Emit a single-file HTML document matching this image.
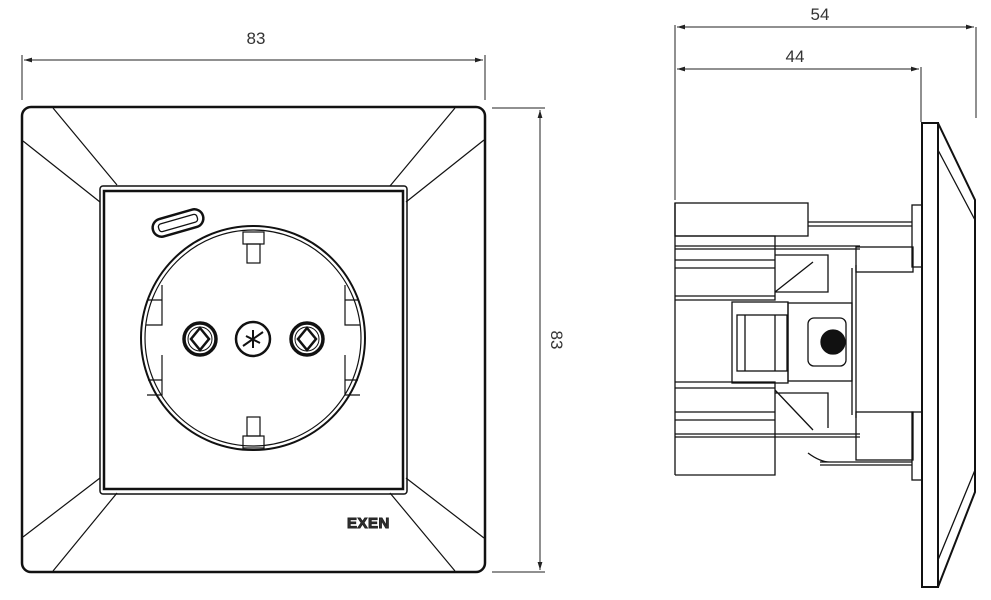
<!DOCTYPE html>
<html><head><meta charset="utf-8"><style>
html,body{margin:0;padding:0;background:#fff;width:991px;height:600px;overflow:hidden}
svg{display:block}
text{font-family:"Liberation Sans",sans-serif;fill:#333}
</style></head><body>
<svg width="991" height="600" viewBox="0 0 991 600" xmlns="http://www.w3.org/2000/svg">
<defs>
<marker id="a" viewBox="0 0 10 10" refX="10" refY="5" markerWidth="8" markerHeight="8" orient="auto-start-reverse"><path d="M0,2 L10,5 L0,8z" fill="#222"/></marker>
</defs>
<g stroke="#222" fill="none" stroke-width="1">
<line x1="22" y1="55" x2="22" y2="100"/>
<line x1="485" y1="55" x2="485" y2="100"/>
<line x1="24" y1="60" x2="483" y2="60" marker-start="url(#a)" marker-end="url(#a)"/>
<line x1="492" y1="108" x2="545" y2="108"/>
<line x1="492" y1="572" x2="545" y2="572"/>
<line x1="540" y1="110" x2="540" y2="570" marker-start="url(#a)" marker-end="url(#a)"/>
<line x1="675" y1="25" x2="675" y2="200"/>
<line x1="976" y1="27" x2="976" y2="118"/>
<line x1="921" y1="67" x2="921" y2="122"/>
<line x1="677" y1="27" x2="974" y2="27" marker-start="url(#a)" marker-end="url(#a)"/>
<line x1="677" y1="69" x2="919" y2="69" marker-start="url(#a)" marker-end="url(#a)"/>
</g>
<text x="256" y="44" font-size="17" text-anchor="middle">83</text>
<text x="820" y="20" font-size="17" text-anchor="middle">54</text>
<text x="795" y="62" font-size="17" text-anchor="middle">44</text>
<text x="0" y="0" font-size="17" text-anchor="middle" transform="translate(551,340) rotate(90)">83</text>

<g stroke="#111" fill="none">
<rect x="22" y="107" width="463" height="465" rx="9" stroke-width="2.5"/>
<g stroke-width="1.2">
<line x1="53" y1="108" x2="117" y2="185"/><line x1="23" y1="141" x2="100" y2="202"/>
<line x1="455" y1="108" x2="390" y2="186"/><line x1="484" y1="140" x2="406" y2="202"/>
<line x1="23" y1="537" x2="100" y2="478"/><line x1="53" y1="571" x2="117" y2="493"/>
<line x1="484" y1="538" x2="406" y2="478"/><line x1="455" y1="571" x2="390" y2="493"/>
</g>
<rect x="100" y="186" width="307" height="308" rx="3" stroke-width="1.5"/>
<rect x="104" y="191" width="299" height="298" stroke-width="2.5"/>
<circle cx="253" cy="338" r="112" stroke-width="2"/>
<circle cx="253" cy="338" r="108" stroke-width="1.2"/>
<g stroke-width="1.2">
<rect x="243" y="232" width="21" height="12"/><rect x="247" y="244" width="13" height="19"/>
<rect x="247" y="417" width="13" height="19"/><rect x="243" y="436" width="21" height="12"/>
<path d="M162 285 V325 H146 M162 300 H148 M162 355 V395 H147 M162 380 H148"/>
<path d="M345 285 V325 H360 M345 300 H358 M345 355 V395 H360 M345 380 H358"/>
</g>
<g transform="translate(178,223) rotate(-16)">
<rect x="-26" y="-9" width="52" height="18" rx="9" stroke-width="2.5"/>
<rect x="-20" y="-4" width="40" height="8" rx="3" stroke-width="1.3"/>
</g>
<circle cx="200" cy="339" r="16" stroke-width="3.5"/>
<circle cx="200" cy="339" r="12" stroke-width="1"/>
<path d="M200 328 L209 339 L200 350 L191 339z" stroke-width="2.5"/>
<circle cx="307" cy="339" r="16" stroke-width="3.5"/>
<circle cx="307" cy="339" r="12" stroke-width="1"/>
<path d="M307 328 L316 339 L307 350 L298 339z" stroke-width="2.5"/>
<circle cx="253" cy="339" r="17" stroke-width="2.5"/>
<path d="M243 346 L263 332 M253 330 V348 M246 336 L260 343" stroke-width="2"/>

<!-- side view -->
<g stroke-width="1.3">
<rect x="922" y="123" width="16" height="464" stroke-width="2"/>
<path d="M938 123 L975 200 V492 L938 587" stroke-width="2"/>
<path d="M938 150 L975 220 M938 560 L975 470"/>
<rect x="675" y="203" width="133" height="33"/>
<path d="M675 203 V475 M675 236 H775 V300 H675 M675 246 H860 M675 249 H860 M675 260 H775 M675 268 H775 M675 296 H775"/>
<path d="M675 382 H775 V475 H675 M675 388 H775 M675 412 H775 M675 420 H775 M675 434 H860 M675 437 H860"/>
<path d="M775 255 H828 V292 H775 M775 292 L813 262 M775 390 L813 430 M775 393 H828 V428"/>
<rect x="732" y="302" width="56" height="81"/>
<rect x="737" y="315" width="50" height="56"/>
<path d="M745 315 V371 M775 315 V371"/>
<rect x="788" y="303" width="64" height="78"/>
<rect x="808" y="318" width="38" height="48" rx="6"/>
<ellipse cx="833" cy="342" rx="12" ry="12" fill="#111"/>
<path d="M852 268 V415 M856 265 V418"/>
<rect x="856" y="247" width="57" height="25"/>
<rect x="856" y="412" width="57" height="48"/>
<rect x="912" y="205" width="10" height="62"/>
<rect x="912" y="412" width="10" height="68"/>
<path d="M808 222 H912 M808 226 H912 M820 462 H912 M820 465 H912 M808 453 Q820 462 830 462"/>
</g>
</g>
<text x="347" y="528" font-size="15" font-weight="bold" fill="#fff" stroke="#222" stroke-width="1" letter-spacing="0.5">EXEN</text>
</svg>
</body></html>
